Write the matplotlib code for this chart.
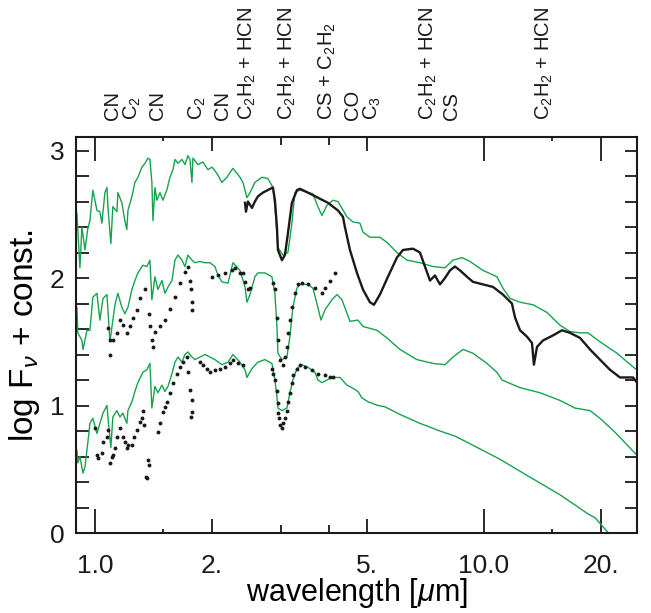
import matplotlib
matplotlib.use("Agg")
import matplotlib.pyplot as plt
from matplotlib.ticker import FixedLocator, NullFormatter
import matplotlib.transforms as mtransforms

plt.rcParams['font.family'] = ['Liberation Sans', 'DejaVu Sans']
plt.rcParams['mathtext.fontset'] = 'custom'
plt.rcParams['mathtext.rm'] = 'Liberation Sans'
plt.rcParams['mathtext.it'] = 'Liberation Sans:italic'

GREEN = '#16a34e'
BLACK = '#1a1a1a'

# --- upper spectrum: model (green) and observation (black line)
wl_mod_top = [0.899, 0.915, 0.926, 0.943, 0.959, 0.971, 0.988, 1.012, 1.030, 1.042, 1.061, 1.074,
              1.080, 1.099, 1.112, 1.139, 1.146, 1.173, 1.194, 1.208, 1.216, 1.245, 1.267, 1.290,
              1.321, 1.345, 1.369, 1.385, 1.401, 1.410, 1.427, 1.443, 1.470, 1.496, 1.531, 1.559,
              1.587, 1.606, 1.635, 1.674, 1.704, 1.734, 1.755, 1.776, 1.786, 1.840, 1.895, 1.952,
              2.000, 2.059, 2.121, 2.185, 2.250, 2.264, 2.360, 2.402, 2.459, 2.504, 2.578, 2.687,
              2.784, 2.868, 2.902, 2.954, 3.043, 3.134, 3.209, 3.267, 3.365, 3.528, 3.634, 3.743,
              3.833, 3.949, 4.092, 4.214, 4.445, 4.605, 4.800, 4.886, 5.092, 5.402, 5.631, 5.974,
              6.340, 6.848, 7.396, 7.940, 8.326, 8.781, 9.205, 9.940, 10.80, 11.19, 11.67, 12.38,
              13.37, 14.52, 15.68, 16.64, 17.66, 18.51, 19.87, 21.98, 24.45, 24.74]
f_mod_top = [2.51, 2.08, 2.40, 2.22, 2.39, 2.45, 2.69, 2.53, 2.52, 2.43, 2.67, 2.71,
             2.56, 2.27, 2.56, 2.52, 2.67, 2.59, 2.45, 2.38, 2.53, 2.64, 2.75, 2.79,
             2.87, 2.90, 2.94, 2.93, 2.75, 2.45, 2.71, 2.61, 2.67, 2.61, 2.69, 2.79,
             2.85, 2.93, 2.90, 2.93, 2.89, 2.96, 2.93, 2.75, 2.94, 2.89, 2.91, 2.85,
             2.87, 2.82, 2.75, 2.79, 2.85, 2.86, 2.79, 2.75, 2.63, 2.67, 2.75, 2.79,
             2.78, 2.71, 2.56, 2.24, 2.18, 2.20, 2.43, 2.67, 2.69, 2.67, 2.66, 2.56,
             2.49, 2.57, 2.61, 2.60, 2.48, 2.44, 2.43, 2.36, 2.32, 2.32, 2.28, 2.20,
             2.14, 2.12, 2.09, 2.08, 2.14, 2.16, 2.13, 2.06, 2.01, 1.92, 1.84, 1.81,
             1.79, 1.73, 1.63, 1.58, 1.57, 1.57, 1.50, 1.41, 1.29, 1.28]

wl_obs_top = [2.431, 2.445, 2.474, 2.533, 2.578, 2.624, 2.703, 2.784, 2.868, 2.902, 2.937, 2.954,
              3.025, 3.079, 3.134, 3.209, 3.306, 3.365, 3.528, 3.743, 3.972, 4.214, 4.341, 4.392,
              4.524, 4.716, 4.886, 5.092, 5.214, 5.402, 5.665, 5.974, 6.191, 6.569, 6.848, 7.053,
              7.266, 7.482, 7.708, 7.940, 8.180, 8.424, 8.678, 9.044, 9.370, 9.940, 10.55, 11.19,
              11.80, 12.02, 12.38, 12.90, 13.29, 13.44, 13.69, 14.18, 15.05, 15.87, 16.64, 17.66,
              18.73, 19.87, 21.09, 22.37, 24.15, 24.74]
f_obs_top = [2.59, 2.52, 2.60, 2.55, 2.60, 2.64, 2.67, 2.69, 2.71, 2.61, 2.40, 2.22,
             2.14, 2.18, 2.35, 2.59, 2.69, 2.70, 2.67, 2.63, 2.59, 2.53, 2.48, 2.40,
             2.22, 2.04, 1.91, 1.81, 1.79, 1.87, 2.01, 2.16, 2.22, 2.23, 2.20, 2.09,
             1.98, 2.02, 1.95, 2.00, 2.06, 2.09, 2.06, 2.01, 1.97, 1.95, 1.93, 1.87,
             1.80, 1.69, 1.59, 1.54, 1.49, 1.32, 1.46, 1.51, 1.55, 1.59, 1.57, 1.53,
             1.44, 1.36, 1.28, 1.22, 1.22, 1.18]

# --- middle spectrum: model (green) and observation (black dots)
wl_mod_mid = [0.899, 0.904, 0.926, 0.932, 0.954, 0.971, 0.988, 1.012, 1.030, 1.049, 1.074, 1.093,
              1.126, 1.146, 1.173, 1.194, 1.216, 1.245, 1.267, 1.290, 1.328, 1.360, 1.385, 1.401,
              1.427, 1.452, 1.487, 1.513, 1.541, 1.578, 1.606, 1.635, 1.674, 1.704, 1.734, 1.776,
              1.808, 1.862, 1.918, 1.976, 2.035, 2.072, 2.121, 2.198, 2.264, 2.360, 2.431, 2.459,
              2.504, 2.578, 2.624, 2.735, 2.851, 2.902, 2.937, 2.954, 3.025, 3.116, 3.171, 3.228,
              3.306, 3.365, 3.528, 3.634, 3.721, 3.811, 3.902, 4.068, 4.190, 4.315, 4.524, 4.744,
              4.886, 5.307, 5.631, 6.082, 6.727, 7.396, 7.940, 8.326, 8.833, 9.370, 10.18, 10.80,
              11.13, 12.38, 13.93, 15.68, 17.14, 18.73, 19.87, 21.72, 24.74]
f_mod_mid = [1.77, 1.57, 1.51, 1.44, 1.59, 1.59, 1.85, 1.88, 1.67, 1.84, 1.87, 1.50,
             1.79, 1.88, 1.77, 1.72, 1.77, 1.91, 1.98, 2.04, 2.10, 2.09, 2.14, 1.83,
             2.01, 1.91, 1.98, 1.88, 1.93, 1.98, 2.14, 2.18, 2.14, 2.09, 2.18, 2.14,
             2.12, 2.13, 2.12, 2.12, 2.09, 2.02, 1.97, 1.96, 2.12, 2.06, 1.93, 1.81,
             1.87, 2.01, 2.04, 2.04, 2.01, 1.88, 1.62, 1.41, 1.36, 1.38, 1.54, 1.77,
             1.92, 1.95, 1.95, 1.92, 1.80, 1.67, 1.75, 1.83, 1.87, 1.83, 1.66, 1.67,
             1.62, 1.59, 1.53, 1.44, 1.36, 1.33, 1.32, 1.38, 1.44, 1.41, 1.33, 1.26,
             1.20, 1.14, 1.10, 1.04, 0.98, 0.96, 0.90, 0.79, 0.61]

wl_obs_mid = [1.080, 1.093, 1.096, 1.112, 1.139, 1.160, 1.180, 1.208, 1.230, 1.252, 1.282, 1.305,
              1.345, 1.377, 1.385, 1.401, 1.410, 1.427, 1.470, 1.513, 1.559, 1.606, 1.654, 1.704,
              1.734, 1.755, 1.765, 1.776, 1.780, 2.000, 2.072, 2.159, 2.250, 2.291, 2.360, 2.402,
              2.431, 2.474, 2.504, 2.868, 2.902, 2.937, 2.954, 2.990, 3.043, 3.079, 3.116, 3.134,
              3.171, 3.209, 3.267, 3.325, 3.405, 3.528, 3.678, 3.833, 3.902, 4.020, 4.140]
f_obs_mid = [1.61, 1.51, 1.40, 1.51, 1.57, 1.67, 1.63, 1.57, 1.62, 1.69, 1.75, 1.84,
             1.91, 1.72, 1.62, 1.51, 1.46, 1.58, 1.62, 1.67, 1.76, 1.85, 1.96, 2.05,
             2.09, 1.98, 1.91, 1.81, 1.75, 2.01, 2.02, 2.04, 2.06, 2.08, 2.04, 2.04,
             1.97, 1.91, 1.92, 1.96, 1.91, 1.69, 1.51, 1.36, 1.32, 1.38, 1.46, 1.57,
             1.67, 1.77, 1.88, 1.95, 1.96, 1.95, 1.92, 1.88, 1.92, 1.98, 2.04]

# --- lower spectrum: model (green) and observation (black dots)
wl_mod_low = [0.899, 0.904, 0.915, 0.932, 0.943, 0.959, 0.971, 0.988, 1.012, 1.030, 1.049, 1.074,
              1.080, 1.099, 1.112, 1.139, 1.160, 1.180, 1.208, 1.216, 1.245, 1.267, 1.290, 1.328,
              1.360, 1.385, 1.401, 1.427, 1.452, 1.487, 1.513, 1.541, 1.578, 1.606, 1.635, 1.674,
              1.704, 1.734, 1.776, 1.808, 1.862, 1.918, 1.976, 2.035, 2.121, 2.198, 2.264, 2.360,
              2.431, 2.459, 2.533, 2.624, 2.735, 2.851, 2.902, 2.937, 2.954, 3.025, 3.116, 3.171,
              3.228, 3.306, 3.405, 3.528, 3.678, 3.743, 3.833, 3.949, 4.068, 4.264, 4.445, 4.578,
              4.744, 4.857, 5.032, 5.339, 5.565, 6.082, 6.848, 7.708, 8.424, 8.94, 10.97, 13.1,
              15.68, 17.14, 18.51, 19.3, 20.9]
f_mod_low = [0.65, 0.55, 0.60, 0.47, 0.52, 0.71, 0.86, 0.90, 0.78, 0.86, 0.94, 1.00,
             0.91, 0.67, 0.91, 0.96, 0.91, 0.94, 0.86, 0.96, 1.03, 1.11, 1.18, 1.26,
             1.28, 1.33, 0.98, 1.15, 1.10, 1.16, 1.11, 1.15, 1.25, 1.34, 1.38, 1.34,
             1.40, 1.42, 1.38, 1.36, 1.38, 1.40, 1.38, 1.36, 1.32, 1.34, 1.40, 1.34,
             1.28, 1.22, 1.29, 1.34, 1.36, 1.33, 1.20, 1.07, 0.98, 0.96, 0.98, 1.10,
             1.20, 1.29, 1.32, 1.30, 1.26, 1.20, 1.18, 1.20, 1.22, 1.22, 1.16, 1.14,
             1.11, 1.06, 1.03, 1.00, 0.99, 0.93, 0.86, 0.80, 0.76, 0.72, 0.58, 0.44,
             0.30, 0.22, 0.15, 0.12, 0.00]

wl_obs_low = [1.000, 1.012, 1.018, 1.042, 1.049, 1.074, 1.080, 1.093, 1.106, 1.112, 1.126, 1.139,
              1.160, 1.180, 1.194, 1.208, 1.216, 1.245, 1.260, 1.282, 1.305, 1.321, 1.328, 1.336,
              1.352, 1.360, 1.369, 1.377, 1.452, 1.470, 1.496, 1.513, 1.531, 1.559, 1.587, 1.625,
              1.654, 1.684, 1.724, 1.734, 1.755, 1.776, 1.778, 1.765, 1.862, 1.895, 1.941, 1.976,
              2.035, 2.096, 2.159, 2.224, 2.264, 2.331, 2.402, 2.851, 2.868, 2.902, 2.937, 2.954,
              2.960, 2.972, 2.990, 3.025, 3.043, 3.079, 3.116, 3.134, 3.171, 3.209, 3.228, 3.306,
              3.365, 3.466, 3.613, 3.743, 3.902, 4.020, 4.092]
f_obs_low = [0.82, 0.61, 0.59, 0.63, 0.71, 0.75, 0.81, 0.55, 0.60, 0.61, 0.67, 0.75,
             0.82, 0.75, 0.71, 0.67, 0.69, 0.69, 0.75, 0.81, 0.87, 0.90, 0.96, 0.85,
             0.44, 0.43, 0.57, 0.53, 0.79, 0.86, 0.95, 0.99, 1.03, 1.10, 1.18, 1.25,
             1.30, 1.34, 1.38, 1.26, 1.12, 1.04, 0.95, 0.91, 1.34, 1.32, 1.29, 1.26,
             1.28, 1.29, 1.30, 1.33, 1.36, 1.33, 1.32, 1.29, 1.25, 1.20, 1.11, 1.02,
             0.94, 0.90, 0.85, 0.82, 0.86, 0.90, 0.96, 1.03, 1.10, 1.18, 1.24, 1.29,
             1.32, 1.30, 1.28, 1.25, 1.24, 1.22, 1.22]

# molecular band identifications along the top
band_wl = [1.11, 1.25, 1.45, 1.83, 2.13, 2.47, 3.12, 3.95, 4.6, 5.18, 7.18, 8.27, 14.3]
band_labels = ['CN', 'C$_2$', 'CN', 'C$_2$', 'CN', 'C$_2$H$_2$ + HCN', 'C$_2$H$_2$ + HCN',
               'CS + C$_2$H$_2$', 'CO', 'C$_3$', 'C$_2$H$_2$ + HCN', 'CS', 'C$_2$H$_2$ + HCN']

x_major = [1.0, 2.0, 5.0, 10.0, 20.0]
x_major_labels = ['1.0', '2.', '5.', '10.0', '20.']
x_minor = [1.5, 3.0, 4.0, 15.0]

fig = plt.figure(figsize=(6.51, 6.13), dpi=100)
ax = fig.add_axes([0.1167, 0.1305, 0.8618, 0.646])

ax.plot(wl_mod_top, f_mod_top, color=GREEN, lw=1.0)
ax.plot(wl_obs_top, f_obs_top, color=BLACK, lw=1.7)
ax.plot(wl_mod_mid, f_mod_mid, color=GREEN, lw=1.0)
ax.plot(wl_obs_mid, f_obs_mid, ls='none', marker='o', ms=1.8, color=BLACK)
ax.plot(wl_mod_low, f_mod_low, color=GREEN, lw=1.0)
ax.plot(wl_obs_low, f_obs_low, ls='none', marker='o', ms=1.8, color=BLACK)

ax.set_xscale('log')
ax.set_xlim(0.894, 24.74)
ax.set_ylim(0, 3.106)

ax.xaxis.set_major_locator(FixedLocator(x_major))
ax.xaxis.set_minor_locator(FixedLocator(x_minor))
ax.set_xticklabels(x_major_labels)
ax.xaxis.set_minor_formatter(NullFormatter())
ax.set_yticks([0, 1, 2, 3])
ax.set_yticks([0.2 * i for i in range(16)], minor=True)

ax.tick_params(which='both', direction='in', top=True, right=True, width=1.3,
               labelsize=19, colors='#1a1a1a')
ax.tick_params(axis='y', which='both', length=9, pad=8)
ax.tick_params(axis='x', which='major', length=10, pad=15)
ax.tick_params(axis='x', which='minor', length=5)

# decade ticks longer, 1.5/15 shorter, as in the original
for tick, v in zip(ax.xaxis.get_major_ticks(), x_major):
    size = 17 if v in (1.0, 10.0, 20.0) else 10
    tick.tick1line.set_markersize(size)
    tick.tick2line.set_markersize(size)
for tick, v in zip(ax.xaxis.get_minor_ticks(), x_minor):
    size = 3 if v in (1.5, 15.0) else 6
    tick.tick1line.set_markersize(size)
    tick.tick2line.set_markersize(size)

for s in ax.spines.values():
    s.set_linewidth(1.5)
    s.set_color('#1a1a1a')

ax.set_xlabel('wavelength [$\\mu$m]', fontsize=22, labelpad=-1)
ax.set_ylabel('log F$_\\nu$ + const.', fontsize=24, labelpad=6)

trans = mtransforms.blended_transform_factory(ax.transData, ax.transAxes)
for w, lab in zip(band_wl, band_labels):
    ax.text(w, 1.043, lab, transform=trans, rotation=90, ha='center', va='bottom',
            fontsize=14.5, color='#1a1a1a')

fig.savefig('out.png', dpi=100)
